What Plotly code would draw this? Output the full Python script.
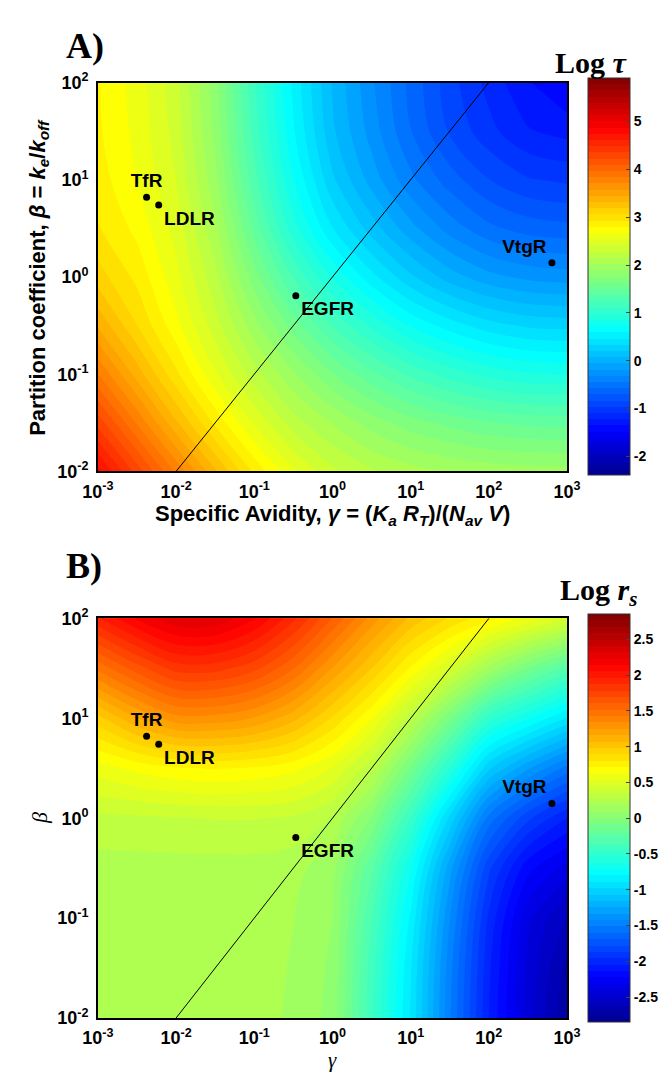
import plotly.graph_objects as go

# ---- grid of log10(gamma) x log10(beta) on which the two fields are tabulated ----
LOG_GAMMA = [-3.0, -2.5, -2.0, -1.5, -1.0, -0.5, 0.0, 0.5, 1.0, 1.5, 2.0, 2.5, 3.0]
LOG_BETA = [-2.0, -1.5, -1.0, -0.5, 0.0, 0.5, 1.0, 1.5, 2.0]

# Log tau, one row per beta (bottom -> top), one column per gamma (left -> right)
LOG_TAU = [
    [4.78, 4.29, 3.80, 3.33, 2.89, 2.55, 2.30, 2.15, 2.06, 2.00, 1.96, 1.94, 1.93],
    [4.30, 3.81, 3.33, 2.89, 2.51, 2.20, 2.00, 1.82, 1.68, 1.58, 1.50, 1.46, 1.45],
    [3.83, 3.38, 2.95, 2.55, 2.20, 1.90, 1.63, 1.40, 1.20, 1.05, 0.93, 0.86, 0.84],
    [3.42, 3.05, 2.70, 2.33, 1.93, 1.56, 1.22, 0.95, 0.70, 0.52, 0.38, 0.30, 0.28],
    [3.11, 2.88, 2.57, 2.18, 1.68, 1.22, 0.83, 0.50, 0.22, 0.00, -0.15, -0.23, -0.26],
    [2.93, 2.75, 2.48, 2.04, 1.45, 0.90, 0.46, 0.13, -0.15, -0.38, -0.55, -0.64, -0.67],
    [2.85, 2.66, 2.40, 1.92, 1.28, 0.72, 0.22, -0.12, -0.42, -0.65, -0.84, -0.96, -1.00],
    [2.81, 2.62, 2.35, 1.84, 1.18, 0.60, 0.09, -0.25, -0.58, -0.86, -1.06, -1.22, -1.28],
    [2.80, 2.60, 2.32, 1.80, 1.12, 0.55, 0.05, -0.30, -0.62, -0.92, -1.15, -1.35, -1.50],
]

# Log r_s on the same grid
LOG_RS = [
    [0.22, 0.22, 0.22, 0.22, 0.22, 0.16, 0.06, -0.42, -0.90, -1.50, -2.05, -2.45, -2.75],
    [0.22, 0.22, 0.22, 0.22, 0.22, 0.17, 0.07, -0.40, -0.88, -1.48, -2.03, -2.43, -2.70],
    [0.22, 0.22, 0.22, 0.22, 0.22, 0.18, 0.09, -0.35, -0.82, -1.42, -1.98, -2.38, -2.60],
    [0.23, 0.23, 0.23, 0.23, 0.23, 0.21, 0.12, -0.25, -0.70, -1.30, -1.85, -2.20, -2.35],
    [0.33, 0.34, 0.35, 0.36, 0.36, 0.34, 0.26, -0.02, -0.45, -1.00, -1.55, -1.85, -2.05],
    [0.58, 0.65, 0.70, 0.72, 0.70, 0.65, 0.53, 0.30, -0.10, -0.55, -1.05, -1.32, -1.55],
    [0.95, 1.15, 1.30, 1.30, 1.24, 1.10, 0.88, 0.63, 0.30, -0.08, -0.50, -0.70, -0.90],
    [1.45, 1.65, 1.82, 1.82, 1.72, 1.52, 1.24, 0.98, 0.70, 0.45, 0.15, -0.10, -0.30],
    [1.95, 2.15, 2.30, 2.30, 2.15, 1.90, 1.60, 1.30, 1.05, 0.88, 0.74, 0.60, 0.45],
]

# receptor systems
RECEPTORS = ["TfR", "LDLR", "EGFR", "VtgR"]
REC_GAMMA = [0.0042, 0.0060, 0.34, 640.0]
REC_BETA = [6.6, 5.5, 0.64, 1.4]
REC_TEXTPOS = ["top center", "bottom right", "bottom right", "top left"]

# beta = gamma reference line
DIAG_GAMMA = [1e-2, 1e2]
DIAG_BETA = [1e-2, 1e2]

X_TICKVALS = [1e-3, 1e-2, 1e-1, 1e0, 1e1, 1e2, 1e3]
X_TICKTEXT = ["10<sup>-3</sup>", "10<sup>-2</sup>", "10<sup>-1</sup>", "10<sup>0</sup>",
              "10<sup>1</sup>", "10<sup>2</sup>", "10<sup>3</sup>"]
Y_TICKVALS = [1e-2, 1e-1, 1e0, 1e1, 1e2]
Y_TICKTEXT = ["10<sup>-2</sup>", "10<sup>-1</sup>", "10<sup>0</sup>", "10<sup>1</sup>", "10<sup>2</sup>"]

TAU_RANGE = [-2.4, 5.9]
TAU_TICKS = [-2, -1, 0, 1, 2, 3, 4, 5]
TAU_TICKTEXT = ["-2", "-1", "0", "1", "2", "3", "4", "5"]
RS_RANGE = [-2.85, 2.85]
RS_TICKS = [-2.5, -2, -1.5, -1, -0.5, 0, 0.5, 1, 1.5, 2, 2.5]
RS_TICKTEXT = ["-2.5", "-2", "-1.5", "-1", "-0.5", "0", "0.5", "1", "1.5", "2", "2.5"]
N_LEVELS = 64

# ---- page geometry (pixels) ----
W, H = 663, 1078
PLOT_L, PLOT_R = 86, 579
A_TOP, A_BOT = 72, 469
B_TOP, B_BOT = 619, 1027
CB_L, CB_W = 601, 42

SANS = "Liberation Sans"
SERIF = "Liberation Serif"


def fx(p):
    return p / W


def fy(p):
    return 1 - p / H


JET = [
    [0.0, "rgb(0,0,143)"],
    [0.111, "rgb(0,0,255)"],
    [0.365, "rgb(0,255,255)"],
    [0.619, "rgb(255,255,0)"],
    [0.873, "rgb(255,0,0)"],
    [1.0, "rgb(128,0,0)"],
]

fig = go.Figure()


def add_panel(z, zrange, ticks, ticktext, top, bot, base, over):
    bx, by = ("x", "y") if base == 1 else ("x%d" % base, "y%d" % base)
    ox, oy = "x%d" % over, "y%d" % over
    step = (zrange[1] - zrange[0]) / N_LEVELS
    fig.add_trace(go.Contour(
        x=LOG_GAMMA, y=LOG_BETA, z=z,
        xaxis=bx, yaxis=by,
        colorscale=JET, zauto=False, zmin=zrange[0], zmax=zrange[1],
        contours=dict(start=zrange[0], end=zrange[1], size=step,
                      coloring="fill", showlines=False),
        line=dict(width=0),
        hoverinfo="skip",
        colorbar=dict(
            x=fx(CB_L), xanchor="left", xpad=0,
            y=fy((top + bot) / 2), yanchor="middle", ypad=0,
            len=bot - top, lenmode="pixels",
            thickness=CB_W, thicknessmode="pixels",
            outlinewidth=1, outlinecolor="#333",
            tickvals=ticks, ticktext=ticktext,
            ticks="inside", ticklen=4, tickcolor="#444",
            tickfont=dict(family=SANS, size=14, color="black", weight="bold"),
        ),
    ))
    fig.add_trace(go.Scatter(
        x=DIAG_GAMMA, y=DIAG_BETA, xaxis=ox, yaxis=oy, mode="lines",
        line=dict(color="black", width=1), hoverinfo="skip", showlegend=False,
    ))
    fig.add_trace(go.Scatter(
        x=REC_GAMMA, y=REC_BETA, xaxis=ox, yaxis=oy, mode="markers+text",
        marker=dict(color="black", size=7),
        text=RECEPTORS, textposition=REC_TEXTPOS,
        textfont=dict(family=SANS, size=19, color="black", weight="bold"),
        hoverinfo="skip", showlegend=False, cliponaxis=False,
    ))


add_panel(LOG_TAU, TAU_RANGE, TAU_TICKS, TAU_TICKTEXT, A_TOP, A_BOT, 1, 3)
add_panel(LOG_RS, RS_RANGE, RS_TICKS, RS_TICKTEXT, B_TOP, B_BOT, 2, 4)

hidden = dict(visible=False, showgrid=False, zeroline=False, fixedrange=True)
tickfont = dict(family=SANS, size=18, color="black", weight="bold")
frame = dict(showline=True, mirror=True, linecolor="black", linewidth=1.5,
             showgrid=False, zeroline=False, ticks="", tickfont=tickfont)

xdom = [fx(PLOT_L), fx(PLOT_R)]
fig.update_layout(
    width=W, height=H,
    margin=dict(l=0, r=0, t=0, b=0),
    paper_bgcolor="white", plot_bgcolor="white",
    showlegend=False,
    xaxis=dict(domain=xdom, range=[-3, 3], anchor="y", **hidden),
    yaxis=dict(domain=[fy(A_BOT), fy(A_TOP)], range=[-2, 2], anchor="x", **hidden),
    xaxis2=dict(domain=xdom, range=[-3, 3], anchor="y2", **hidden),
    yaxis2=dict(domain=[fy(B_BOT), fy(B_TOP)], range=[-2, 2], anchor="x2", **hidden),
    xaxis3=dict(type="log", range=[-3, 3], overlaying="x", anchor="y3",
                tickvals=X_TICKVALS, ticktext=X_TICKTEXT, ticklabelstandoff=3, **frame),
    yaxis3=dict(type="log", range=[-2, 2], overlaying="y", anchor="x3",
                tickvals=Y_TICKVALS, ticktext=Y_TICKTEXT, ticklabelstandoff=4, **frame),
    xaxis4=dict(type="log", range=[-3, 3], overlaying="x2", anchor="y4",
                tickvals=X_TICKVALS, ticktext=X_TICKTEXT, ticklabelstandoff=3, **frame),
    yaxis4=dict(type="log", range=[-2, 2], overlaying="y2", anchor="x4",
                tickvals=Y_TICKVALS, ticktext=Y_TICKTEXT, ticklabelstandoff=4, **frame),
)

title_font = dict(family=SANS, size=22, color="black", weight="bold")
serif_big = dict(family=SERIF, size=36, color="black", weight="bold")
serif_mid = dict(family=SERIF, size=30, color="black", weight="bold")
mid_x = (PLOT_L + PLOT_R) / 2

annotations = [
    dict(text="A)", x=fx(50), y=fy(35), xanchor="left", yanchor="middle", font=serif_big),
    dict(text="B)", x=fx(50), y=fy(566), xanchor="left", yanchor="middle", font=serif_big),
    dict(text="Log <i>τ</i>", x=fx(605), y=fy(52), xanchor="center", yanchor="middle", font=serif_mid),
    dict(text="Log <i>r<sub>s</sub></i>", x=fx(612), y=fy(592), xanchor="center", yanchor="middle", font=serif_mid),
    dict(text="Specific Avidity, <i>γ</i> = (<i>K<sub>a</sub> R<sub>T</sub></i>)/(<i>N<sub>av</sub> V</i>)",
         x=fx(mid_x), y=fy(513), xanchor="center", yanchor="middle", font=title_font),
    dict(text="Partition coefficient, <i>β</i> = <i>k<sub>e</sub></i>/<i>k<sub>off</sub></i>",
         x=fx(24), y=fy((A_TOP + A_BOT) / 2), xanchor="center", yanchor="middle",
         textangle=-90, font=title_font),
    dict(text="<i>γ</i>", x=fx(mid_x), y=fy(1070), xanchor="center", yanchor="middle",
         font=dict(family=SERIF, size=21, color="black")),
    dict(text="<i>β</i>", x=fx(24), y=fy((B_TOP + B_BOT) / 2), xanchor="center", yanchor="middle",
         textangle=-90, font=dict(family=SERIF, size=22, color="black")),
]
for a in annotations:
    a.update(xref="paper", yref="paper", showarrow=False)
fig.update_layout(annotations=annotations)

fig.write_html("out.html")
